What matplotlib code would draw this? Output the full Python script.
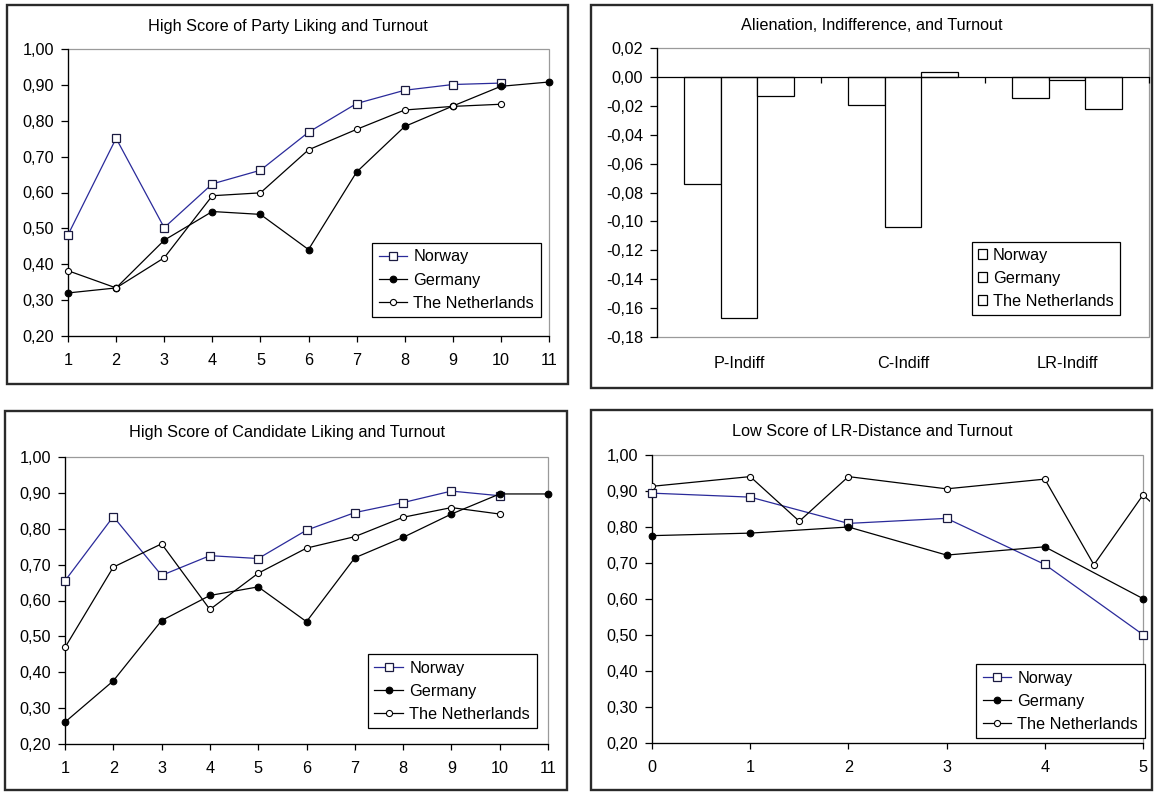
import numpy as np
import matplotlib
matplotlib.use("Agg")
import matplotlib.pyplot as plt
from matplotlib.patches import Rectangle
from matplotlib.ticker import FuncFormatter

plt.rcParams["font.family"] = ["Liberation Sans", "DejaVu Sans"]

W, H = 1154, 792

countries = ["Norway", "Germany", "The Netherlands"]

# Panel 1: High score of party liking
party_x = list(range(1, 12))
party_norway = [0.482, 0.751, 0.502, 0.624, 0.662, 0.768, 0.848, 0.885, 0.901, 0.905]
party_germany = [0.320, 0.334, 0.467, 0.547, 0.539, 0.441, 0.657, 0.784, 0.841, 0.896, 0.908]
party_nl = [0.382, 0.334, 0.418, 0.591, 0.599, 0.719, 0.776, 0.830, 0.840, 0.846]

# Panel 2: alienation / indifference effects
indiff_cats = ["P-Indiff", "C-Indiff", "LR-Indiff"]
indiff_norway = [-0.074, -0.0196, -0.0146]
indiff_germany = [-0.167, -0.104, -0.0022]
indiff_nl = [-0.013, 0.0037, -0.0224]

# Panel 3: High score of candidate liking
cand_x = list(range(1, 12))
cand_norway = [0.655, 0.834, 0.670, 0.725, 0.717, 0.796, 0.845, 0.873, 0.905, 0.892]
cand_germany = [0.261, 0.376, 0.544, 0.614, 0.638, 0.541, 0.719, 0.776, 0.841, 0.897, 0.897]
cand_nl = [0.469, 0.693, 0.758, 0.575, 0.676, 0.746, 0.778, 0.832, 0.859, 0.841]

# Panel 4: Low score of LR-distance
lr_x = [0, 1, 2, 3, 4, 5]
lr_norway = [0.894, 0.883, 0.810, 0.824, 0.696, 0.501]
lr_germany = [0.776, 0.783, 0.800, 0.722, 0.745, 0.601]
lr_nl_x = [0, 1, 1.5, 2, 3, 4, 4.5, 5, 5.5]
lr_nl = [0.913, 0.940, 0.816, 0.940, 0.906, 0.933, 0.695, 0.889, 0.765]

FS = 11.7
NAVY = "#2a2a9a"

fig = plt.figure(figsize=(W / 100, H / 100), dpi=100)


def fig_rect(x0, y0, x1, y1):
    return [x0 / W, 1 - y1 / H, (x1 - x0) / W, (y1 - y0) / H]


def frame(x0, y0, x1, y1):
    fig.patches.append(Rectangle((x0 / W, 1 - y1 / H), (x1 - x0) / W, (y1 - y0) / H,
                                 transform=fig.transFigure, fill=False,
                                 edgecolor="#2a2a2a", linewidth=1.7, zorder=0))


def comma_fmt(v, pos=None):
    s = f"{v:.2f}".replace(".", ",")
    if s == "-0,00":
        s = "0,00"
    return s


def style_axes(ax):
    for side in ("top", "right"):
        ax.spines[side].set_visible(False)
    for side in ("left", "bottom"):
        ax.spines[side].set_color("black")
        ax.spines[side].set_linewidth(0.9)
    ax.add_patch(Rectangle((0, 0), 1, 1, transform=ax.transAxes, fill=False,
                           edgecolor="#9a9a9a", linewidth=0.9, clip_on=False, zorder=0.5))
    ax.yaxis.set_major_formatter(FuncFormatter(comma_fmt))
    ax.tick_params(axis="y", direction="out", length=5, width=0.9, pad=5, labelsize=FS)
    ax.tick_params(axis="x", direction="out", length=4, width=0.9, pad=8, labelsize=FS)


def line_series(ax, x, y, kind, clip=False):
    if kind == 0:
        kw = dict(color=NAVY, marker="s", markersize=5.6, markerfacecolor="white",
                  markeredgecolor="#1a1a40", markeredgewidth=0.9)
    elif kind == 1:
        kw = dict(color="black", marker="o", markersize=4.8, markerfacecolor="black",
                  markeredgecolor="black", markeredgewidth=0.8)
    else:
        kw = dict(color="black", marker="o", markersize=4.4, markerfacecolor="white",
                  markeredgecolor="black", markeredgewidth=0.8)
    ln, = ax.plot(x, y, linewidth=0.9, clip_on=clip, label=countries[kind], zorder=3, **kw)
    return ln


def line_legend(ax, x0, y0):
    leg = ax.legend(loc="upper left", bbox_to_anchor=(x0 / W, 1 - y0 / H),
                    bbox_transform=fig.transFigure, fontsize=FS, frameon=True, fancybox=False,
                    edgecolor="black", framealpha=1, borderpad=0.4, borderaxespad=0,
                    handlelength=1.75, handletextpad=0.4, labelspacing=0.5)
    leg.get_frame().set_linewidth(0.9)


def title(x_center, y_center, text):
    fig.text(x_center / W, 1 - y_center / H, text, ha="center", va="center", fontsize=FS)


# ---- Panel 1 ----
frame(7, 5, 568, 384)
ax1 = fig.add_axes(fig_rect(68, 49, 549, 336))
style_axes(ax1)
line_series(ax1, party_x[:len(party_norway)], party_norway, 0)
line_series(ax1, party_x[:len(party_germany)], party_germany, 1)
line_series(ax1, party_x[:len(party_nl)], party_nl, 2)
ax1.set_xlim(1, 11)
ax1.set_ylim(0.2, 1.0)
ax1.set_xticks(party_x)
ax1.set_yticks(np.linspace(0.2, 1.0, 9))
line_legend(ax1, 372, 243)
title(288, 27, "High Score of Party Liking and Turnout")

# ---- Panel 2 ----
frame(591, 5, 1152, 388)
ax2 = fig.add_axes(fig_rect(657, 48, 1149, 337))
for side in ("top", "right"):
    ax2.spines[side].set_visible(False)
ax2.spines["left"].set_color("black")
ax2.spines["left"].set_linewidth(0.9)
ax2.spines["bottom"].set_position(("data", 0))
ax2.spines["bottom"].set_color("black")
ax2.spines["bottom"].set_linewidth(0.9)
ax2.add_patch(Rectangle((0, 0), 1, 1, transform=ax2.transAxes, fill=False,
                        edgecolor="#9a9a9a", linewidth=0.9, clip_on=False, zorder=0.5))
pos = np.arange(len(indiff_cats))
bw = 0.222
for k, vals in enumerate([indiff_norway, indiff_germany, indiff_nl]):
    ax2.bar(pos + (k - 1) * bw, vals, width=bw, facecolor="white", edgecolor="black",
            linewidth=0.9, label=countries[k], zorder=2)
ax2.set_xlim(-0.5, 2.5)
ax2.set_ylim(-0.18, 0.02)
ax2.set_yticks(np.linspace(-0.18, 0.02, 11))
ax2.yaxis.set_major_formatter(FuncFormatter(comma_fmt))
ax2.set_xticks(pos[:-1] + 0.5)
ax2.set_xticks([2.5], minor=True)
ax2.tick_params(axis="x", which="both", direction="out", length=4, width=0.9, labelbottom=False)
ax2.tick_params(axis="y", direction="out", length=5, width=0.9, pad=5, labelsize=FS)
for i, lab in enumerate(indiff_cats):
    ax2.annotate(lab, xy=(pos[i], 0), xycoords=("data", "axes fraction"),
                 xytext=(0, -19), textcoords="offset points", ha="center", va="center",
                 fontsize=FS)
leg2 = ax2.legend(loc="upper left", bbox_to_anchor=(972 / W, 1 - 242 / H),
                  bbox_transform=fig.transFigure, fontsize=FS, frameon=True, fancybox=False,
                  edgecolor="black", framealpha=1, borderpad=0.35, borderaxespad=0,
                  handlelength=0.6, handleheight=0.6, handletextpad=0.35, labelspacing=0.5)
leg2.get_frame().set_linewidth(0.9)
title(872, 25, "Alienation, Indifference, and Turnout")

# ---- Panel 3 ----
frame(5, 411, 567, 790)
ax3 = fig.add_axes(fig_rect(65, 457, 548, 744))
style_axes(ax3)
line_series(ax3, cand_x[:len(cand_norway)], cand_norway, 0)
line_series(ax3, cand_x[:len(cand_germany)], cand_germany, 1)
line_series(ax3, cand_x[:len(cand_nl)], cand_nl, 2)
ax3.set_xlim(1, 11)
ax3.set_ylim(0.2, 1.0)
ax3.set_xticks(cand_x)
ax3.set_yticks(np.linspace(0.2, 1.0, 9))
line_legend(ax3, 368, 654)
title(287, 433, "High Score of Candidate Liking and Turnout")

# ---- Panel 4 ----
frame(591, 410, 1152, 790)
ax4 = fig.add_axes(fig_rect(652, 455, 1143, 743))
style_axes(ax4)
line_series(ax4, lr_x, lr_norway, 0)
line_series(ax4, lr_x, lr_germany, 1)
nl_line = line_series(ax4, lr_nl_x, lr_nl, 2, clip=True)
nl_line.set_clip_path(Rectangle((0, -0.05), 1.014, 1.1, transform=ax4.transAxes))
ax4.set_xlim(0, 5)
ax4.set_ylim(0.2, 1.0)
ax4.set_xticks(lr_x)
ax4.set_yticks(np.linspace(0.2, 1.0, 9))
line_legend(ax4, 976, 664)
title(872, 431, "Low Score of LR-Distance and Turnout")

fig.savefig("out.png", dpi=100)
